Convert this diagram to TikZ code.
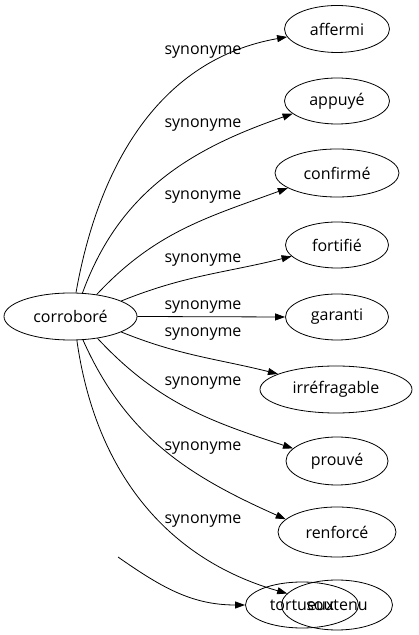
\documentclass[tikz,border=0pt]{standalone}
\usepackage{fontspec}
\setmainfont{Open Sans}
\usetikzlibrary{shapes.geometric,arrows.meta}
\begin{document}
\begin{tikzpicture}[x=1pt,y=1pt,
  word/.style={ellipse,draw,line width=0.8pt,inner sep=0pt,font=\fontsize{16}{19}\selectfont},
  lbl/.style={inner sep=0pt,font=\fontsize{16}{19}\selectfont},
  syn/.style={line width=0.8pt,-{Triangle[length=10pt,width=7pt]}}]
\useasboundingbox (0,0) rectangle (418,635);
\node[word,minimum width=133pt,minimum height=47pt] (c) at (70.5,318.5) {corroboré};
\node[word,minimum width=105pt,minimum height=47pt] (affermi) at (337,606) {affermi};
\node[word,minimum width=105pt,minimum height=46pt] (appuye) at (337,534) {appuyé};
\node[word,minimum width=124pt,minimum height=48pt] (confirme) at (337,462) {confirmé};
\node[word,minimum width=103pt,minimum height=46pt] (fortifie) at (337,390) {fortifié};
\node[word,minimum width=103pt,minimum height=46pt] (garanti) at (337,318) {garanti};
\node[word,minimum width=152pt,minimum height=47pt] (irrefragable) at (336,245.5) {irréfragable};
\node[word,minimum width=102pt,minimum height=48pt] (prouve) at (337,174) {prouvé};
\node[word,minimum width=118pt,minimum height=50pt] (renforce) at (337,103) {renforcé};
\node[word,minimum width=113pt,minimum height=46pt] (tortueux) at (302,30) {tortueux};
\node[word,minimum width=111pt,minimum height=50pt] (soutenu) at (337,30) {soutenu};
\coordinate (free) at (118,78);

\draw[syn] (c.77) to[out=80,in=190] (affermi.189);
\draw[syn] (c.63) to[out=70,in=199] (appuye.196);
\draw[syn] (c.40) to[out=47,in=200] (confirme.197);
\draw[syn] (c.17) to[out=22,in=194] (fortifie.194);
\draw[syn] (c.east) -- (garanti.west);
\draw[syn] (c.-17) to[out=-22,in=166] (irrefragable.165);
\draw[syn] (c.-39) to[out=-47,in=162] (prouve.164);
\draw[syn] (c.-62) to[out=-66,in=156] (renforce.166);
\draw[syn] (c.-75) to[out=-82,in=164] (soutenu.167);
\draw[syn] (free) to[out=-35,in=180] (tortueux.west);

\node[lbl] (l1) at (203,583) {synonyme};
\node[lbl] (l2) at (203,510) {synonyme};
\node[lbl] (l3) at (203,438) {synonyme};
\node[lbl] (l4) at (203,375) {synonyme};
\node[lbl] (l5) at (203,328) {synonyme};
\node[lbl] (l6) at (203,301) {synonyme};
\node[lbl] (l7) at (203,252) {synonyme};
\node[lbl] (l8) at (203,187) {synonyme};
\node[lbl] (l9) at (203,114) {synonyme};
\end{tikzpicture}
\end{document}
